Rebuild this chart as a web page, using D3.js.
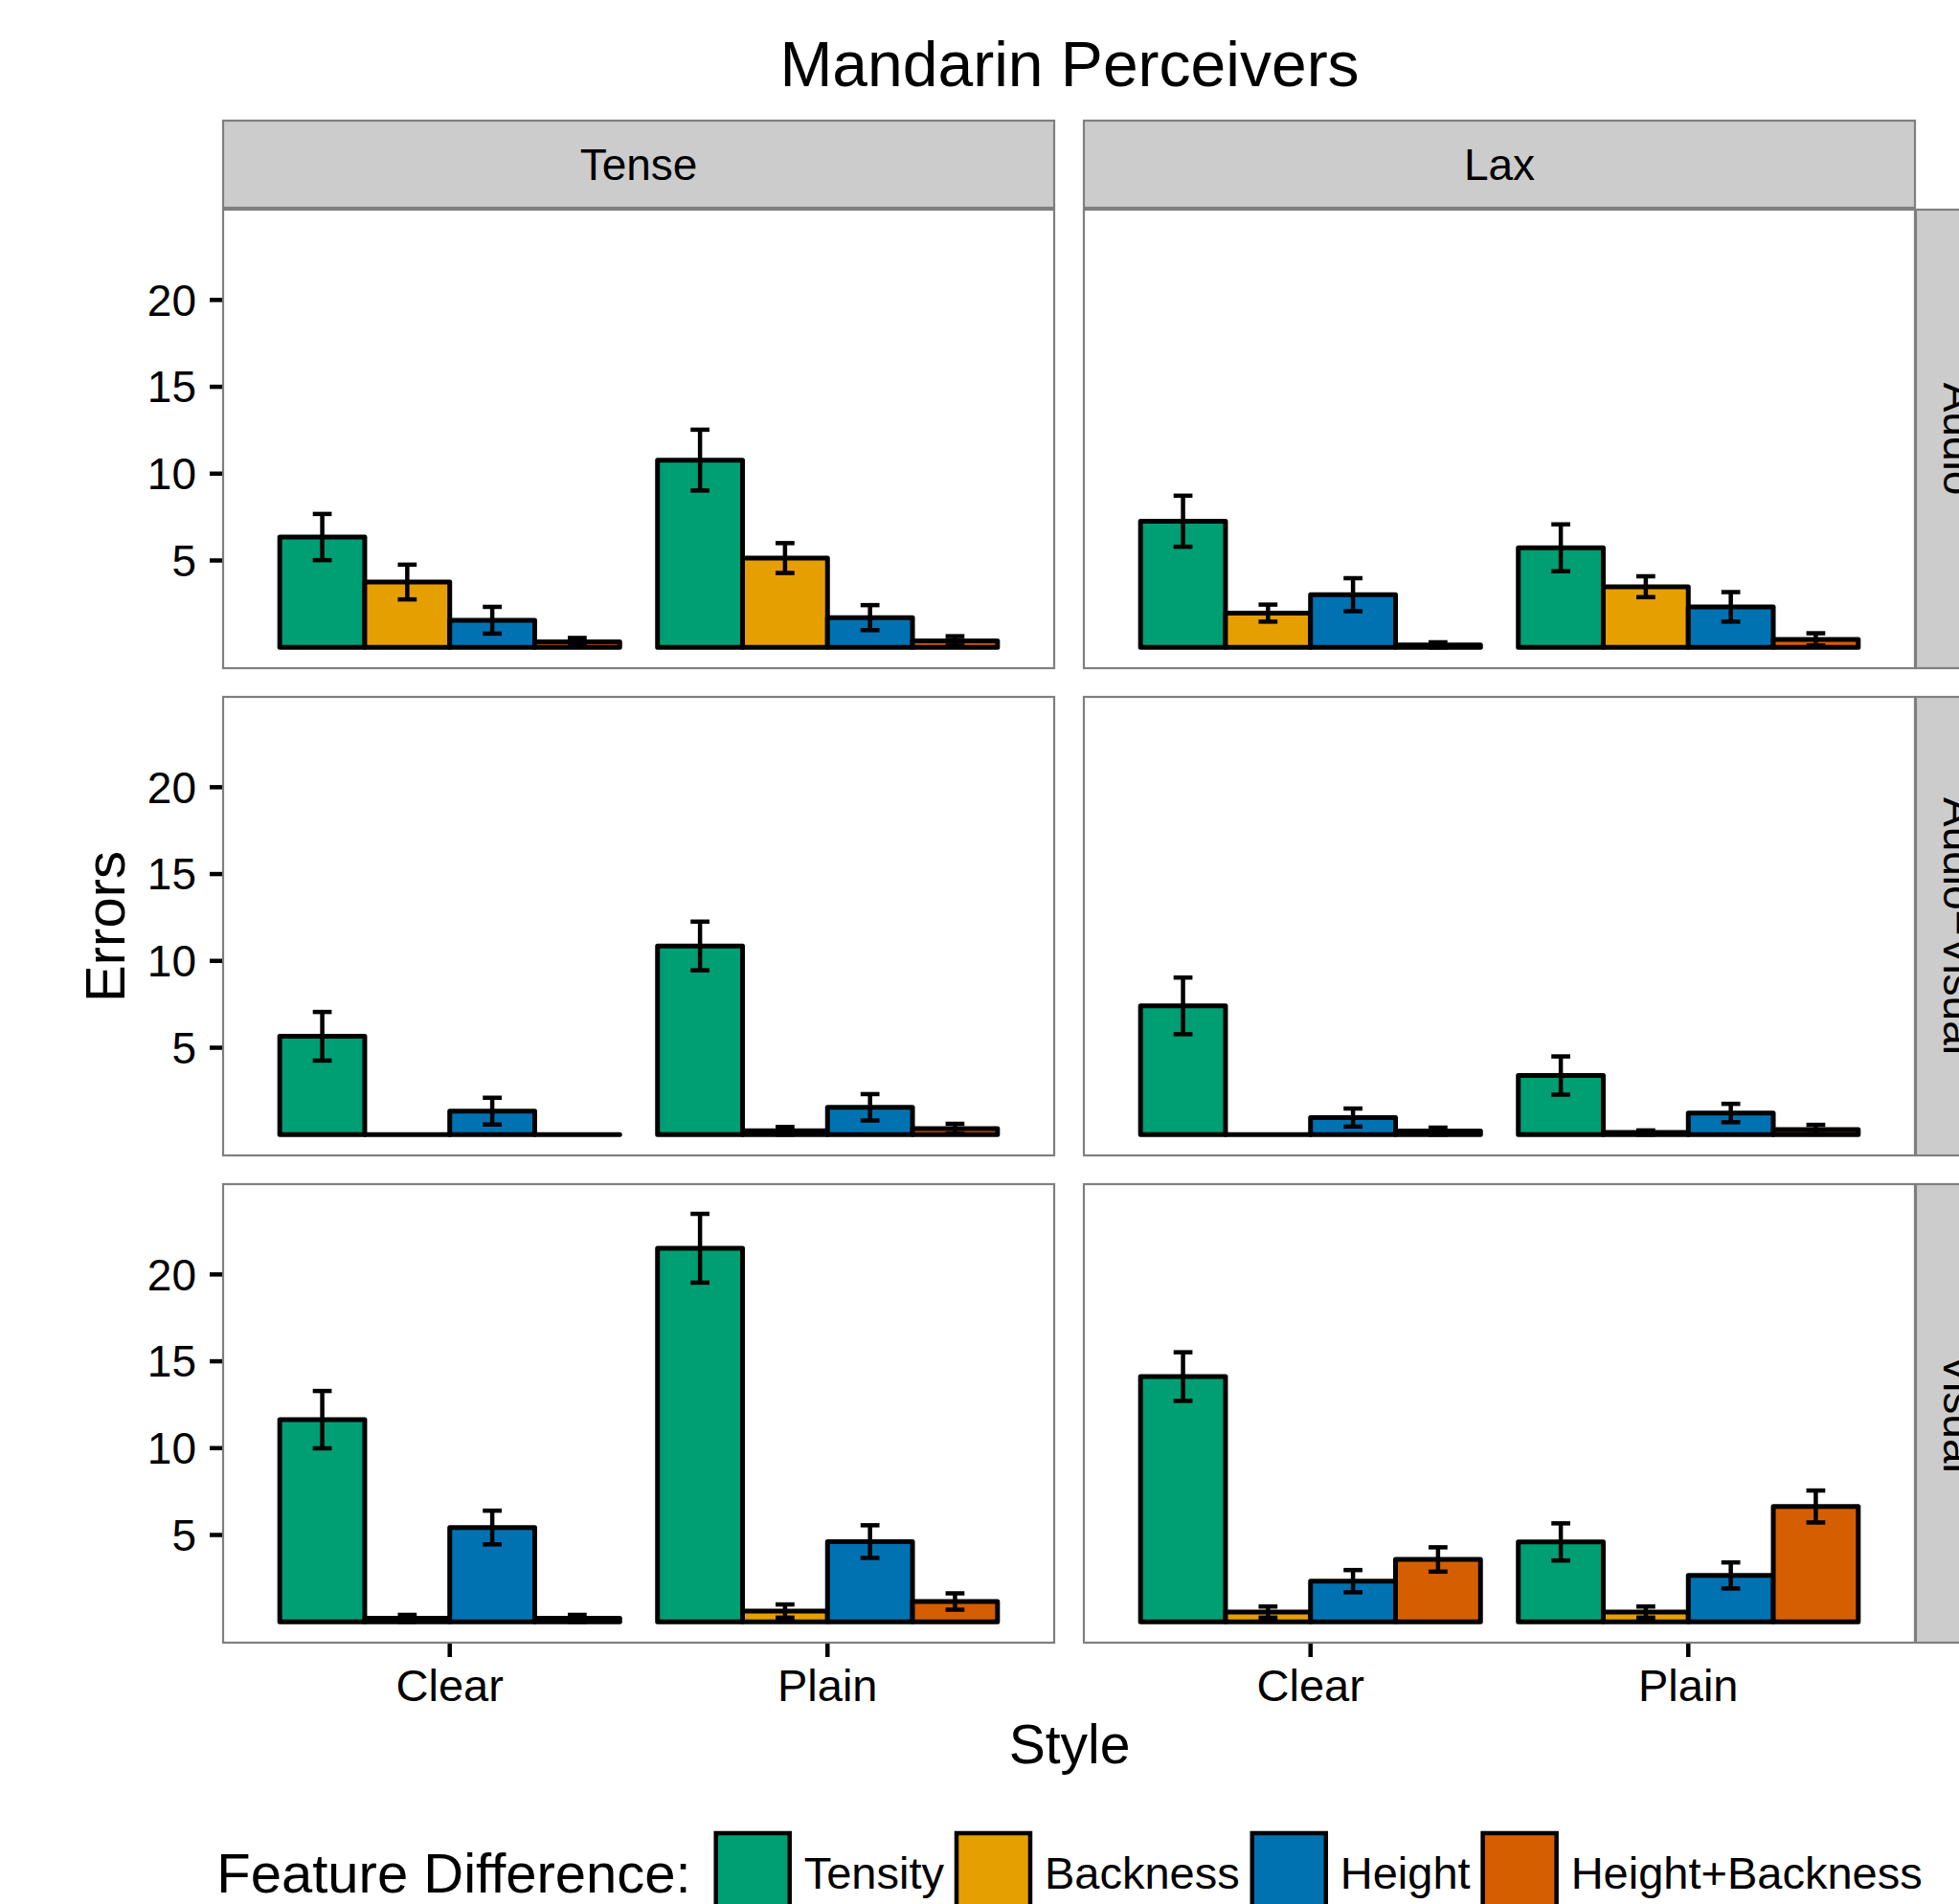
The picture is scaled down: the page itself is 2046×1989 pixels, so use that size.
<!DOCTYPE html>
<html><head><meta charset="utf-8">
<script src="https://cdn.jsdelivr.net/npm/d3@7"></script>
<style>body{margin:0;background:#fff}svg{display:block}text{font-family:"Liberation Sans",Arial,Helvetica,sans-serif;fill:#000}</style>
</head><body><svg id="chart" width="2046" height="1989"></svg>
<script>
// ---------------- data ----------------
const chartTitle = "Mandarin Perceivers";
const features = ["Tensity", "Backness", "Height", "Height+Backness"];
const featureColors = ["#009E73", "#E69F00", "#0072B2", "#D55E00"];
const styles = ["Clear", "Plain"];
const tenses = ["Tense", "Lax"];
const modalities = ["Audio", "Audio\u2212Visual", "Visual"];
const yTicks = [5, 10, 15, 20];
const yDomain = [-1.2, 25.2];
// means: [tense][style][feature]
const audioMeans = [[[6.35, 3.76, 1.56, 0.31], [10.78, 5.14, 1.71, 0.37]],
                    [[7.26, 1.97, 3.03, 0.13], [5.73, 3.49, 2.33, 0.46]]];
const audioSE    = [[[1.33, 1.00, 0.77, 0.23], [1.75, 0.86, 0.72, 0.27]],
                    [[1.47, 0.49, 0.95, 0.16], [1.35, 0.60, 0.85, 0.35]]];
const avMeans    = [[[5.66, 0.00, 1.35, 0.00], [10.86, 0.22, 1.57, 0.34]],
                    [[7.41, 0.00, 0.98, 0.20], [3.40, 0.12, 1.24, 0.29]]];
const avSE       = [[[1.40, 0.00, 0.77, 0.00], [1.40, 0.22, 0.76, 0.28]],
                    [[1.63, 0.00, 0.52, 0.20], [1.10, 0.12, 0.53, 0.27]]];
const visualMeans = [[[11.64, 0.20, 5.43, 0.20], [21.51, 0.62, 4.62, 1.17]],
                     [[14.12, 0.56, 2.34, 3.59], [4.60, 0.56, 2.67, 6.64]]];
const visualSE    = [[[1.65, 0.20, 0.97, 0.20], [1.98, 0.38, 0.94, 0.47]],
                     [[1.40, 0.32, 0.64, 0.70], [1.07, 0.32, 0.75, 0.92]]];
const meansByModality = [audioMeans, avMeans, visualMeans];
const seByModality = [audioSE, avSE, visualSE];

// ---------------- layout ----------------
const svg = d3.select("#chart");
const panelX = [233, 1132], panelW = 868;
const panelY = [219, 728, 1237], panelH = 479;
const stripTopY = 126, stripH = 91;
const stripRightX = 2001, stripW = 91;
const grey50 = "#7F7F7F", grey80 = "#CCCCCC";
const FONT = 46;

const x = d3.scaleBand().domain(styles).range([0, panelW]).paddingInner(0.1).paddingOuter(0.15);
const xf = d3.scaleBand().domain(features).range([0, x.bandwidth()]).padding(0);
const y = d3.scaleLinear().domain(yDomain).range([panelH, 0]);
const color = d3.scaleOrdinal().domain(features).range(featureColors);
const capW = x.step() * 0.05;

// title
svg.append("text").attr("x", 1117).attr("y", 90).attr("text-anchor", "middle")
  .attr("font-size", 66).text(chartTitle);

// top strips
tenses.forEach((t, c) => {
  svg.append("rect").attr("x", panelX[c]).attr("y", stripTopY).attr("width", panelW).attr("height", stripH)
    .attr("fill", grey80).attr("stroke", grey50).attr("stroke-width", 2.2);
  svg.append("text").attr("x", panelX[c] + panelW / 2).attr("y", stripTopY + stripH / 2)
    .attr("dy", "0.355em").attr("text-anchor", "middle").attr("font-size", FONT).attr("fill", "#1a1a1a").text(t);
});
// right strips
modalities.forEach((m, r) => {
  svg.append("rect").attr("x", stripRightX).attr("y", panelY[r]).attr("width", stripW).attr("height", panelH)
    .attr("fill", grey80).attr("stroke", grey50).attr("stroke-width", 2.2);
  svg.append("text")
    .attr("transform", `translate(${stripRightX + stripW / 2},${panelY[r] + panelH / 2}) rotate(90)`)
    .attr("dy", "0.355em").attr("text-anchor", "middle").attr("font-size", FONT).attr("fill", "#1a1a1a").text(m);
});

function barPath(x0, y0, w, h) {
  return `M${x0},${y0}h${w}v${h}h${-w}Z`;
}

modalities.forEach((m, r) => {
  tenses.forEach((t, c) => {
    const g = svg.append("g").attr("transform", `translate(${panelX[c]},${panelY[r]})`);
    g.append("rect").attr("width", panelW).attr("height", panelH).attr("fill", "#fff");
    const rows = [];
    styles.forEach((s, si) => features.forEach((f, fi) => {
      rows.push({style: s, feature: f, mean: meansByModality[r][c][si][fi], se: seByModality[r][c][si][fi]});
    }));
    // bars
    g.selectAll("path.bar").data(rows).join("path").attr("class", "bar")
      .attr("d", d => {
        const bx = x(d.style) + xf(d.feature);
        const top = y(d.mean), base = y(0);
        return barPath(bx, top, xf.bandwidth(), base - top);
      })
      .attr("fill", d => color(d.feature)).attr("stroke", "#000").attr("stroke-width", 5)
      .attr("stroke-linejoin", "round");
    // error bars
    const eb = g.selectAll("g.err").data(rows.filter(d => d.se > 0)).join("g").attr("class", "err")
      .attr("stroke", "#000").attr("stroke-width", 4.5).attr("fill", "none");
    eb.append("line")
      .attr("x1", d => x(d.style) + xf(d.feature) + xf.bandwidth() / 2)
      .attr("x2", d => x(d.style) + xf(d.feature) + xf.bandwidth() / 2)
      .attr("y1", d => y(d.mean + d.se)).attr("y2", d => y(Math.max(0, d.mean - d.se)));
    eb.append("line")
      .attr("x1", d => x(d.style) + xf(d.feature) + xf.bandwidth() / 2 - capW / 2)
      .attr("x2", d => x(d.style) + xf(d.feature) + xf.bandwidth() / 2 + capW / 2)
      .attr("y1", d => y(d.mean + d.se)).attr("y2", d => y(d.mean + d.se));
    eb.append("line")
      .attr("x1", d => x(d.style) + xf(d.feature) + xf.bandwidth() / 2 - capW / 2)
      .attr("x2", d => x(d.style) + xf(d.feature) + xf.bandwidth() / 2 + capW / 2)
      .attr("y1", d => y(Math.max(0, d.mean - d.se))).attr("y2", d => y(Math.max(0, d.mean - d.se)));
    // border
    g.append("rect").attr("width", panelW).attr("height", panelH).attr("fill", "none")
      .attr("stroke", grey50).attr("stroke-width", 2.2);
    // y axis on left column
    if (c === 0) {
      const ya = g.append("g").attr("class", "yaxis");
      yTicks.forEach(v => {
        ya.append("line").attr("x1", -14).attr("x2", -1).attr("y1", y(v)).attr("y2", y(v))
          .attr("stroke", "#000").attr("stroke-width", 4.5);
        ya.append("text").attr("x", -28).attr("y", y(v)).attr("dy", "0.355em").attr("text-anchor", "end")
          .attr("font-size", FONT).text(v);
      });
    }
    // x axis on bottom row
    if (r === modalities.length - 1) {
      styles.forEach(s => {
        const cx = x(s) + x.bandwidth() / 2;
        g.append("line").attr("x1", cx).attr("x2", cx).attr("y1", panelH + 1).attr("y2", panelH + 15)
          .attr("stroke", "#000").attr("stroke-width", 4.5);
        g.append("text").attr("x", cx).attr("y", panelH + 61).attr("text-anchor", "middle")
          .attr("font-size", 47).text(s);
      });
    }
  });
});

// axis titles
svg.append("text").attr("x", 1117).attr("y", 1842).attr("text-anchor", "middle").attr("font-size", 57).text("Style");
svg.append("text").attr("transform", `translate(130,968) rotate(-90)`).attr("text-anchor", "middle")
  .attr("font-size", 58).text("Errors");

// legend
const leg = svg.append("g");
const legTitle = leg.append("text").attr("x", 0).attr("y", 1977).attr("font-size", 58).text("Feature Difference:");
let cursor = legTitle.node().getComputedTextLength() + 26;
const keySize = 77;
features.forEach((f, i) => {
  leg.append("rect").attr("x", cursor).attr("y", 1915).attr("width", keySize).attr("height", keySize)
    .attr("fill", color(f)).attr("stroke", "#000").attr("stroke-width", 4.5);
  cursor += keySize + 15;
  const t = leg.append("text").attr("x", cursor).attr("y", 1973).attr("font-size", 47).text(f);
  cursor += t.node().getComputedTextLength() + (i < features.length - 1 ? 13 : 0);
});
leg.attr("transform", `translate(${1117 - cursor / 2},0)`);
</script></body></html>
